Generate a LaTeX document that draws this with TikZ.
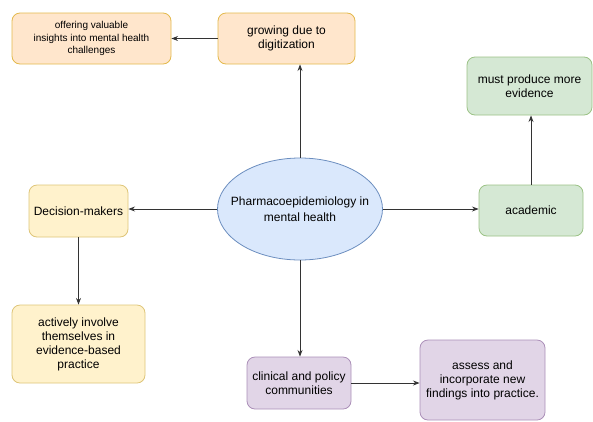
\documentclass[tikz,border=0pt]{standalone}
\usepackage{fontspec}
\setmainfont{Liberation Sans}
\usetikzlibrary{positioning,shapes.geometric,arrows.meta}

\definecolor{orfill}{HTML}{FFE6CC}
\definecolor{ordraw}{HTML}{D79B00}
\definecolor{yefill}{HTML}{FFF2CC}
\definecolor{yedraw}{HTML}{D6B656}
\definecolor{grfill}{HTML}{D5E8D4}
\definecolor{grdraw}{HTML}{82B366}
\definecolor{pufill}{HTML}{E1D5E7}
\definecolor{pudraw}{HTML}{9673A6}
\definecolor{blfill}{HTML}{DAE8FC}
\definecolor{bldraw}{HTML}{6C8EBF}

\begin{document}
\begin{tikzpicture}
                [%%%%%%%%%%%%%%%%%%%%%%%%%%%%%%%%%%%%%%%%%%%%%%%%%%%%%%%%%%
                    x=1pt,y=-1pt,>=Stealth,
                    box/.style={rectangle,rounded corners=8pt,line width=0.8pt,align=center,
                                inner sep=2pt,font=\fontsize{12}{14}\selectfont},
                    orangebox/.style={box,draw=ordraw!70,fill=orfill},
                    yellowbox/.style={box,draw=yedraw!80,fill=yefill},
                    greenbox/.style={box,draw=grdraw!80,fill=grfill},
                    purplebox/.style={box,draw=pudraw!80,fill=pufill},
                    topic/.style={ellipse,draw=bldraw,fill=blfill,line width=0.8pt,align=center,
                                  inner xsep=-12pt,inner ysep=0pt,minimum width=165pt,minimum height=102pt,
                                  font=\fontsize{12}{15.5}\selectfont},
                    link/.style={->,line width=0.8pt,draw=black!80}
                ]%%%%%%%%%%%%%%%%%%%%%%%%%%%%%%%%%%%%%%%%%%%%%%%%%%%%%%%%%%
                \useasboundingbox (0,0) rectangle (593,421);

                \node[topic] (mh) at (300,209) {Pharmacoepidemiology in\\mental health};

                \node[orangebox,minimum width=137pt,minimum height=51pt] (growing) at (286.5,38.5) {growing due to\\digitization};
                \node[orangebox,minimum width=159pt,minimum height=51pt,font=\fontsize{10}{12.8}\selectfont] (offer) at (91.5,38.5) {offering valuable\\insights into mental health\\challenges};

                \node[greenbox,minimum width=104pt,minimum height=51pt] (academic) at (531,210.5) {academic};
                \node[greenbox,minimum width=125pt,minimum height=58pt] (evidence) at (529.5,86) {must produce more\\evidence};

                \node[yellowbox,minimum width=99pt,minimum height=52pt] (decision) at (78.5,211) {Decision-makers};
                \node[yellowbox,minimum width=133pt,minimum height=78pt] (involve) at (78.5,344) {actively involve\\themselves in\\evidence-based\\practice};

                \node[purplebox,minimum width=104pt,minimum height=52pt] (clinical) at (299,383) {clinical and policy\\communities};
                \node[purplebox,minimum width=125pt,minimum height=80pt] (assess) at (482.5,380) {assess and\\incorporate new\\findings into practice.};

                \draw [link] (mh.north) -- (mh.north |- growing.south);
                \draw [link] (growing.west) -- (offer.east);
                \draw [link] (mh.west) -- (mh.west -| decision.east);
                \draw [link] (decision.south) -- (involve.north);
                \draw [link] (mh.east) -- (mh.east -| academic.west);
                \draw [link] (academic.north) -- (academic.north |- evidence.south);
                \draw [link] (mh.south) -- (mh.south |- clinical.north);
                \draw [link] (clinical.east) -- (clinical.east -| assess.west);
            \end{tikzpicture}
\end{document}
